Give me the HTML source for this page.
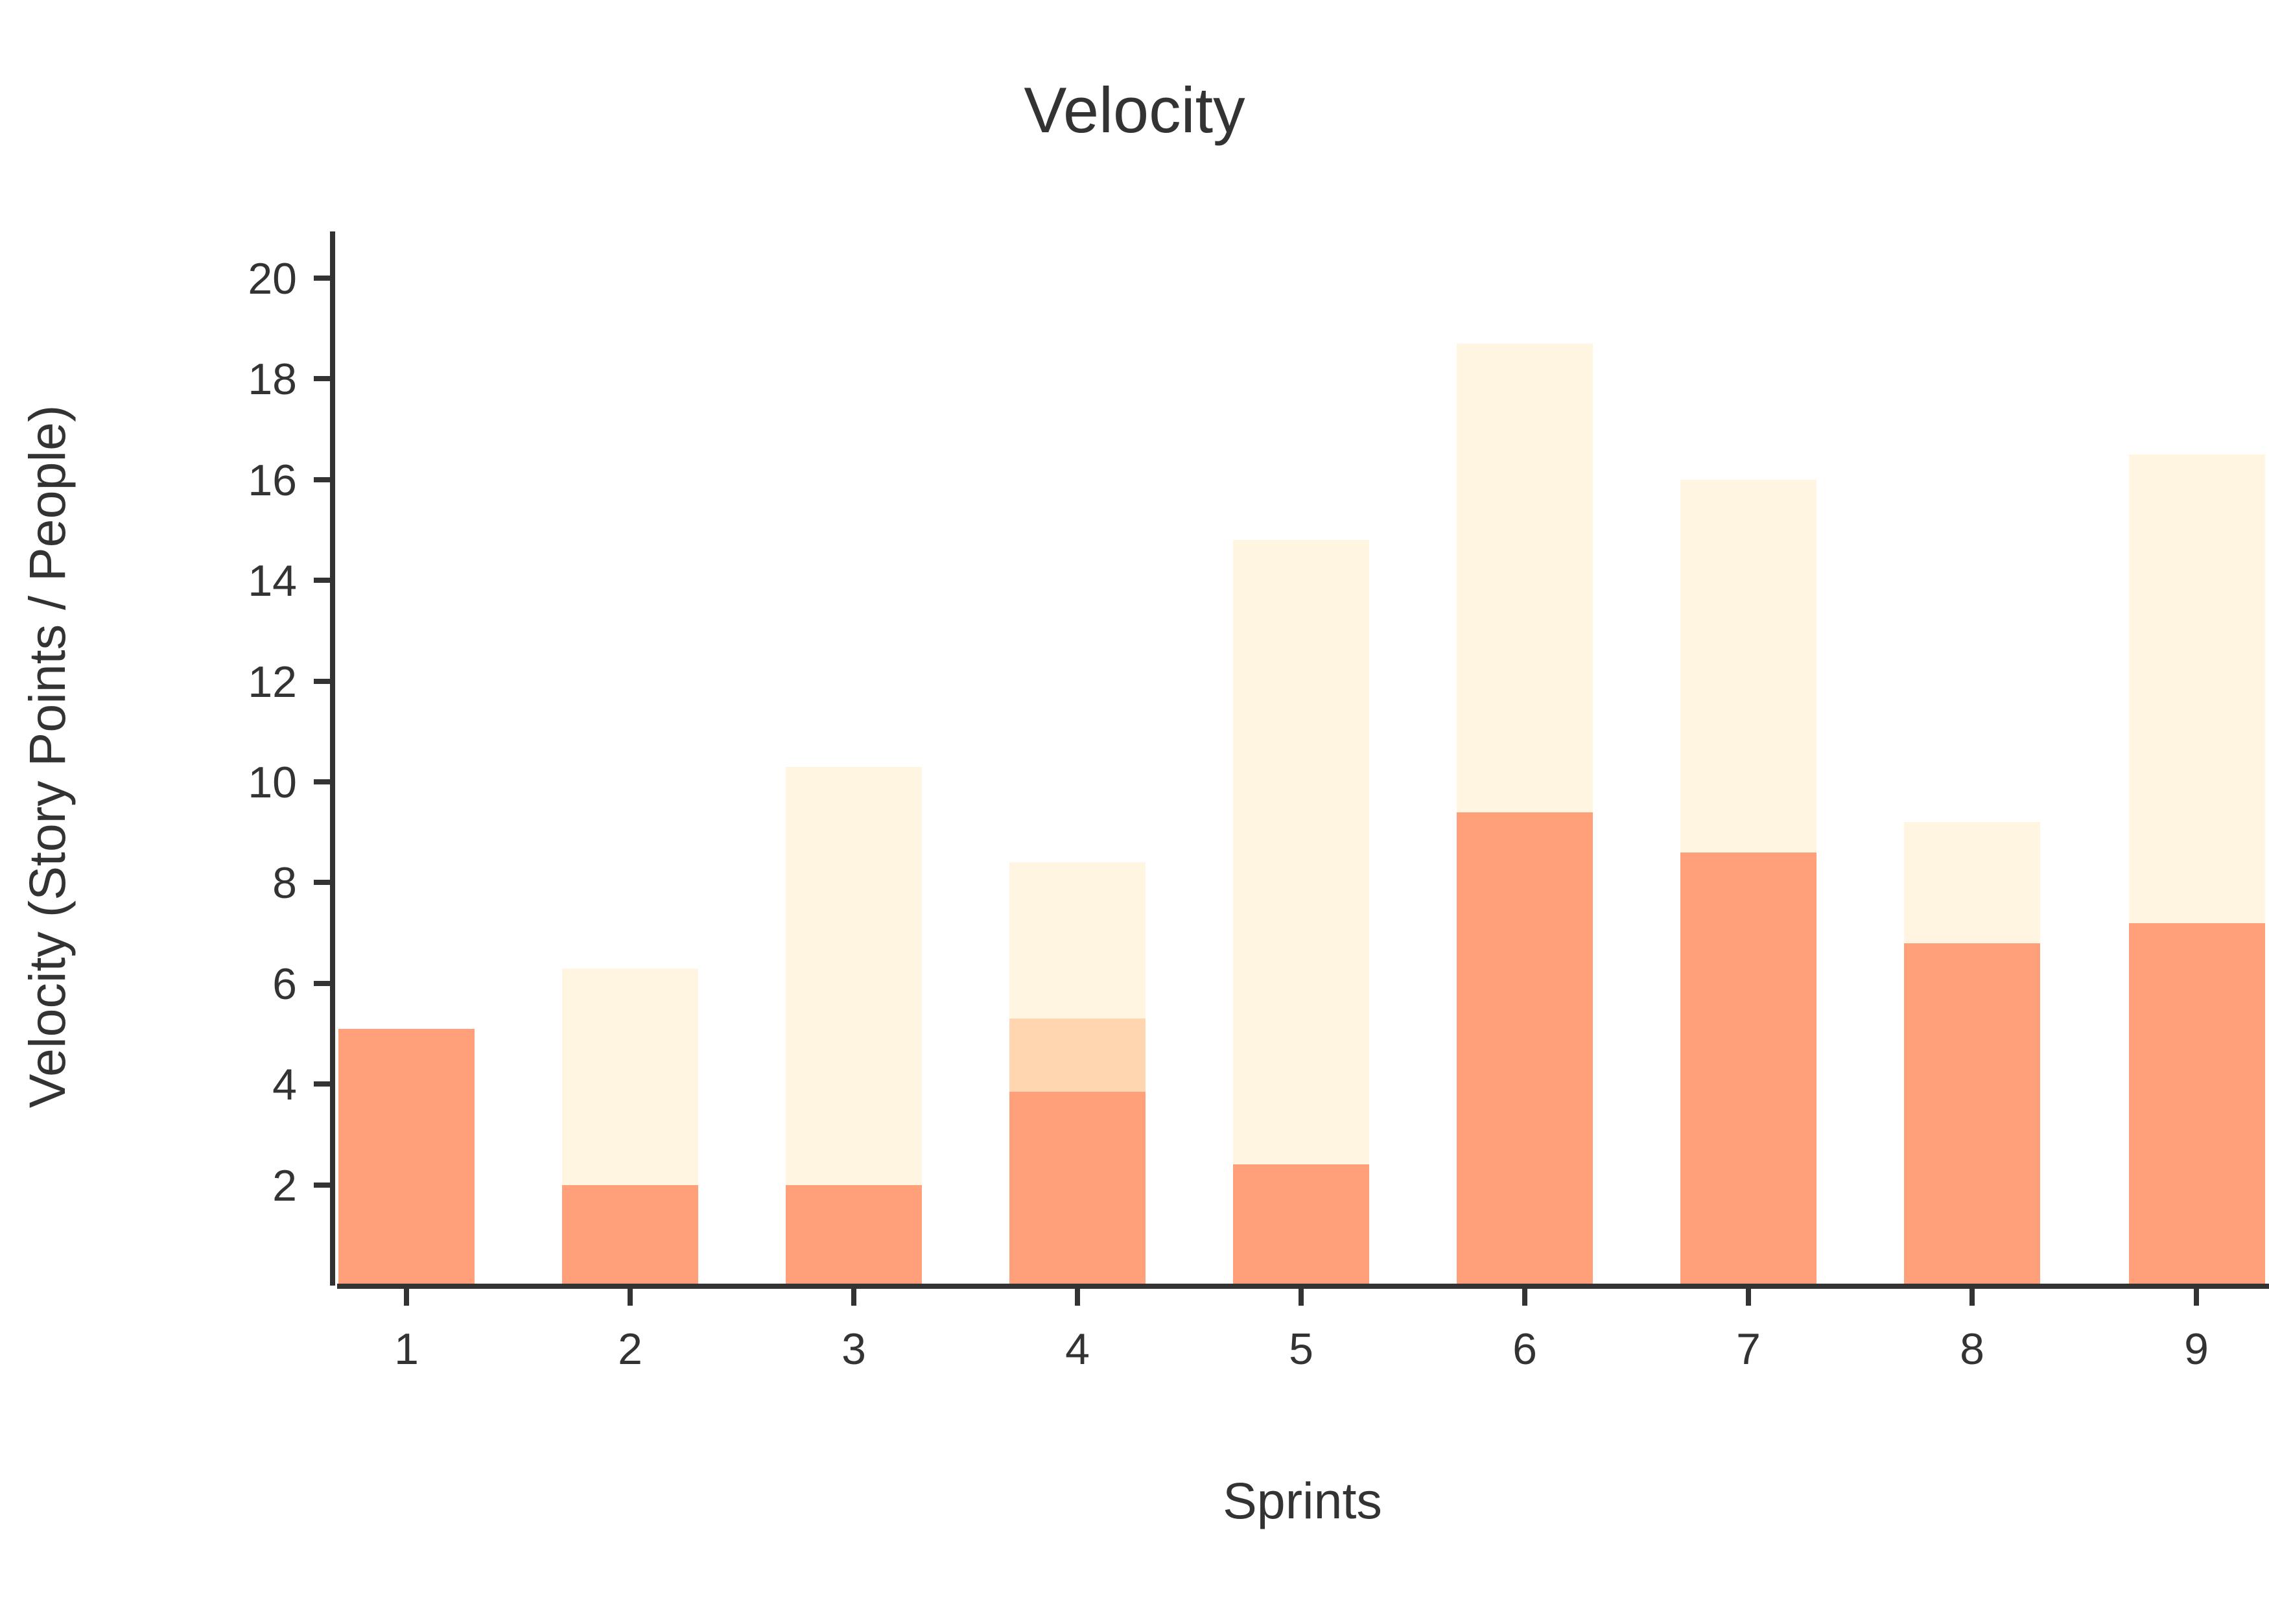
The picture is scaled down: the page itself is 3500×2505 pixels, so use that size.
<!DOCTYPE html>
<html><head><style>html,body{margin:0;padding:0;background:#fff}</style></head><body>
<svg width="3500" height="2500" xmlns="http://www.w3.org/2000/svg" font-family="Liberation Sans, sans-serif" fill="#333">
<rect width="3500" height="2500" fill="#fff"/>
<rect x="522" y="1587" width="210" height="396" fill="#FFA07A"/>
<rect x="867" y="1494" width="210" height="334" fill="#FFF5E0"/>
<rect x="867" y="1828" width="210" height="155" fill="#FFA07A"/>
<rect x="1212" y="1183" width="210" height="645" fill="#FFF5E0"/>
<rect x="1212" y="1828" width="210" height="155" fill="#FFA07A"/>
<rect x="1557" y="1330" width="210" height="242" fill="#FFF5E0"/>
<rect x="1557" y="1571" width="210" height="113" fill="#FFD6B0"/>
<rect x="1557" y="1684" width="210" height="299" fill="#FFA07A"/>
<rect x="1902" y="833" width="210" height="964" fill="#FFF5E0"/>
<rect x="1902" y="1796" width="210" height="187" fill="#FFA07A"/>
<rect x="2247" y="530" width="210" height="723" fill="#FFF5E0"/>
<rect x="2247" y="1253" width="210" height="730" fill="#FFA07A"/>
<rect x="2592" y="740" width="210" height="576" fill="#FFF5E0"/>
<rect x="2592" y="1315" width="210" height="668" fill="#FFA07A"/>
<rect x="2937" y="1268" width="210" height="187" fill="#FFF5E0"/>
<rect x="2937" y="1455" width="210" height="528" fill="#FFA07A"/>
<rect x="3284" y="701" width="210" height="723" fill="#FFF5E0"/>
<rect x="3284" y="1424" width="210" height="559" fill="#FFA07A"/>
<g stroke="#333" stroke-width="8">
<line x1="513" y1="357" x2="513" y2="1983"/>
<line x1="520" y1="1984" x2="3500" y2="1984"/>
<line x1="484" y1="429" x2="513" y2="429"/>
<line x1="484" y1="584" x2="513" y2="584"/>
<line x1="484" y1="740" x2="513" y2="740"/>
<line x1="484" y1="895" x2="513" y2="895"/>
<line x1="484" y1="1051" x2="513" y2="1051"/>
<line x1="484" y1="1206" x2="513" y2="1206"/>
<line x1="484" y1="1361" x2="513" y2="1361"/>
<line x1="484" y1="1517" x2="513" y2="1517"/>
<line x1="484" y1="1672" x2="513" y2="1672"/>
<line x1="484" y1="1828" x2="513" y2="1828"/>
<line x1="627" y1="1984" x2="627" y2="2014"/>
<line x1="972" y1="1984" x2="972" y2="2014"/>
<line x1="1317" y1="1984" x2="1317" y2="2014"/>
<line x1="1662" y1="1984" x2="1662" y2="2014"/>
<line x1="2007" y1="1984" x2="2007" y2="2014"/>
<line x1="2352" y1="1984" x2="2352" y2="2014"/>
<line x1="2697" y1="1984" x2="2697" y2="2014"/>
<line x1="3042" y1="1984" x2="3042" y2="2014"/>
<line x1="3388" y1="1984" x2="3388" y2="2014"/>
</g>
<g font-size="68" text-anchor="end">
<text x="458" y="453">20</text><text x="458" y="608">18</text><text x="458" y="764">16</text>
<text x="458" y="919">14</text><text x="458" y="1075">12</text><text x="458" y="1230">10</text>
<text x="458" y="1385">8</text><text x="458" y="1541">6</text><text x="458" y="1696">4</text>
<text x="458" y="1852">2</text>
</g>
<g font-size="68" text-anchor="middle">
<text x="627" y="2104">1</text><text x="972" y="2104">2</text><text x="1317" y="2104">3</text>
<text x="1662" y="2104">4</text><text x="2007" y="2104">5</text><text x="2352" y="2104">6</text>
<text x="2697" y="2104">7</text><text x="3042" y="2104">8</text><text x="3388" y="2104">9</text>
</g>
<text x="1750" y="204" font-size="99" text-anchor="middle">Velocity</text>
<text x="2009" y="2342" font-size="79" text-anchor="middle">Sprints</text>
<text transform="translate(100,1167) rotate(-90)" font-size="79" text-anchor="middle">Velocity (Story Points / People)</text>
</svg>
</body></html>
